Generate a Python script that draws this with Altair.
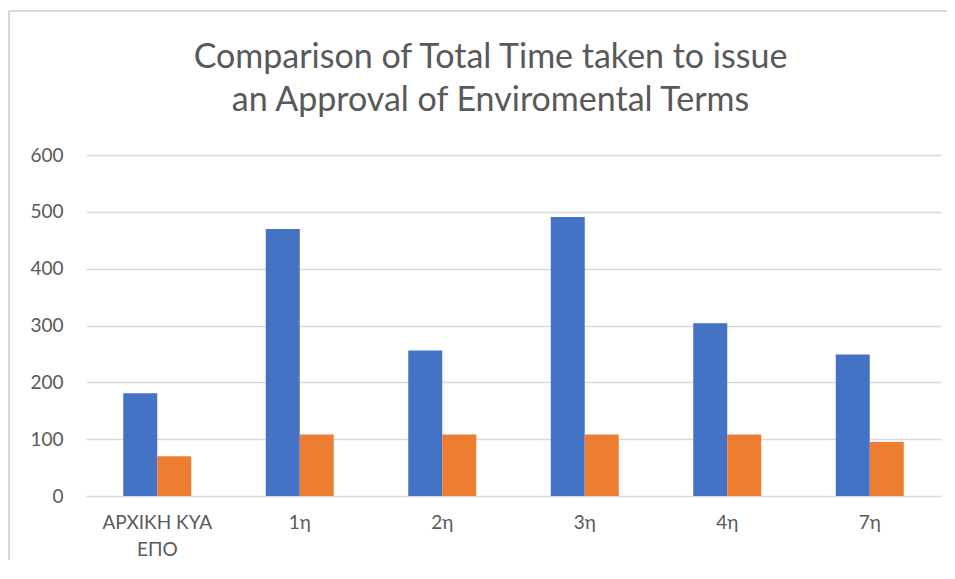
import altair as alt
import pandas as pd

categories = ["ΑΡΧΙΚΗ ΚΥΑ ΕΠΟ", "1η", "2η", "3η", "4η", "7η"]
series_names = ["Series1", "Series2"]
series1 = [181, 470, 256, 491, 304, 249]
series2 = [70, 108, 108, 108, 108, 95]
colors = ["#4472C4", "#ED7D31"]

rows = []
for c, a, b in zip(categories, series1, series2):
    rows.append({"cat": c, "series": series_names[0], "value": a})
    rows.append({"cat": c, "series": series_names[1], "value": b})
df = pd.DataFrame(rows)

FONT = "Lato"
GREY = "#595959"

bars = alt.Chart(df).mark_bar().encode(
    x=alt.X("cat:N", sort=categories, title=None,
            scale=alt.Scale(paddingInner=0.523, paddingOuter=0.2615),
            axis=alt.Axis(labelAngle=0, domain=False, ticks=False, labelPadding=17,
                          labelFontSize=19, labelColor=GREY, labelFont=FONT,
                          labelLineHeight=27,
                          labelExpr="datum.label == 'ΑΡΧΙΚΗ ΚΥΑ ΕΠΟ' ? ['ΑΡΧΙΚΗ ΚΥΑ', 'ΕΠΟ'] : datum.label")),
    xOffset=alt.XOffset("series:N", sort=series_names, scale=alt.Scale(paddingInner=0, paddingOuter=0)),
    y=alt.Y("value:Q", title=None,
            scale=alt.Scale(domain=[0, 600], nice=False),
            axis=alt.Axis(values=[0, 100, 200, 300, 400, 500, 600], domain=False, ticks=False,
                          labelPadding=23, labelFontSize=19, labelColor=GREY, labelFont=FONT,
                          gridColor="#d9d9d9", gridWidth=1.3)),
    color=alt.Color("series:N", sort=series_names,
                    scale=alt.Scale(domain=series_names, range=colors), legend=None),
)

border = alt.Chart(pd.DataFrame({"k": [0]})).mark_rule(color="#d9d9d9", strokeWidth=2).encode(
    x=alt.value(-77), x2=alt.value(861), y=alt.value(-144)
)
border_left = alt.Chart(pd.DataFrame({"k": [0]})).mark_rule(color="#d9d9d9", strokeWidth=2).encode(
    x=alt.value(-77), y=alt.value(-144), y2=alt.value(412)
)

chart = alt.layer(border, border_left, bars).properties(
    width=855, height=341,
    title=alt.Title(["Comparison of Total Time taken to issue", "an Approval of Enviromental Terms"],
                    font=FONT, fontSize=34, fontWeight="normal", color=GREY,
                    anchor="middle", frame="group", dx=-23, dy=108, offset=0, lineHeight=43),
    autosize=alt.AutoSizeParams(type="none"),
    padding={"left": 78, "top": 147, "right": 6, "bottom": 64},
).configure_view(stroke=None)

chart.save("out.html", embed_options={"renderer": "svg", "actions": False})
